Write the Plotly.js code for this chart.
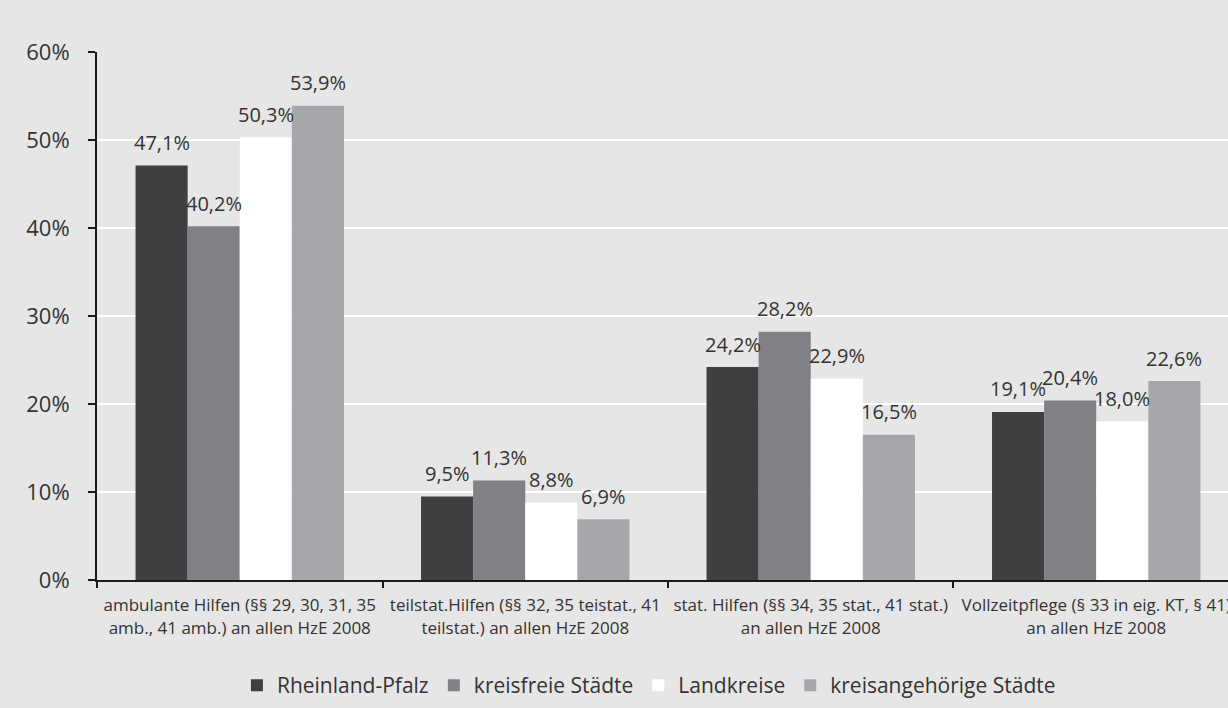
<!DOCTYPE html>
<html>
<head>
<meta charset="utf-8">
<script src="https://cdn.plot.ly/plotly-3.0.1.min.js"></script>
<style>
  html, body { margin: 0; padding: 0; background: #e6e6e6; }
  #chart { width: 1228px; height: 708px; }
</style>
</head>
<body>
<div id="chart"></div>
<script>
// Anteile der Hilfearten an allen Hilfen zur Erziehung (HzE) 2008
const categories = [
  'ambulante Hilfen (§§ 29, 30, 31, 35<br>amb., 41 amb.) an allen HzE 2008',
  'teilstat.Hilfen (§§ 32, 35 teistat., 41<br>teilstat.) an allen HzE 2008',
  'stat. Hilfen (§§ 34, 35 stat., 41 stat.)<br>an allen HzE 2008',
  'Vollzeitpflege (§ 33 in eig. KT, § 41)<br>an allen HzE 2008'
];

const rheinlandPfalz    = [47.1, 9.5, 24.2, 19.1];
const kreisfreieStaedte = [40.2, 11.3, 28.2, 20.4];
const landkreise        = [50.3, 8.8, 22.9, 18.0];
const kreisangehoerige  = [53.9, 6.9, 16.5, 22.6];

const seriesNames = ['Rheinland-Pfalz', 'kreisfreie Städte', 'Landkreise', 'kreisangehörige Städte'];
const seriesColors = ['#3e3f41', '#808184', '#ffffff', '#a6a7aa'];

const yTickVals = [0, 10, 20, 30, 40, 50, 60];
const yTickText = ['0%', '10%', '20%', '30%', '40%', '50%', '60%'];

const fontFamily = '"Open Sans", "Noto Sans", sans-serif';
const textColor = '#333333';

function fmt(v) {
  return v.toFixed(1).replace('.', ',') + '%';
}

const allSeries = [rheinlandPfalz, kreisfreieStaedte, landkreise, kreisangehoerige];

const W = 1228, H = 708;
const margin = { l: 97, r: 0, t: 52, b: 128 };
const xRange = [-0.5, 3.4615];
const bargap = 0.27;

const traces = allSeries.map((vals, i) => ({
  type: 'bar',
  name: seriesNames[i],
  x: categories,
  y: vals,
  marker: { color: seriesColors[i], line: { width: 0 } },
  hoverinfo: 'skip'
}));

// value labels above each bar, shifted sideways to the centre of its bar within the group
const plotW = W - margin.l - margin.r;
const pxPerCat = plotW / (xRange[1] - xRange[0]);
const barPx = pxPerCat * (1 - bargap) / allSeries.length;
const annotations = [];
allSeries.forEach((vals, i) => {
  vals.forEach((v, j) => {
    annotations.push({
      x: categories[j],
      y: v,
      xref: 'x', yref: 'y',
      text: fmt(v),
      showarrow: false,
      xanchor: 'center',
      yanchor: 'middle',
      xshift: (i - (allSeries.length - 1) / 2) * barPx,
      yshift: 23,
      font: { family: fontFamily, size: 20, color: textColor }
    });
  });
});

const layout = {
  width: W,
  height: H,
  paper_bgcolor: '#e6e6e6',
  plot_bgcolor: '#e6e6e6',
  margin: margin,
  barmode: 'group',
  bargap: bargap,
  bargroupgap: 0,
  font: { family: fontFamily, color: textColor },
  showlegend: true,
  legend: {
    orientation: 'h',
    x: 0.488, xanchor: 'center',
    y: -0.2, yanchor: 'middle',
    font: { family: fontFamily, size: 21, color: textColor },
    itemwidth: 30,
    traceorder: 'normal',
    bgcolor: 'rgba(0,0,0,0)'
  },
  annotations: annotations,
  xaxis: {
    type: 'category',
    range: xRange,
    showline: true,
    linecolor: '#1a1a1a',
    linewidth: 2,
    ticks: 'outside',
    tickson: 'boundaries',
    ticklen: 6,
    tickwidth: 2,
    tickcolor: '#1a1a1a',
    ticklabelstandoff: 9,
    showgrid: false,
    zeroline: false,
    tickfont: { family: fontFamily, size: 17, color: textColor },
    automargin: false
  },
  yaxis: {
    range: [0, 60],
    tickvals: yTickVals,
    ticktext: yTickText,
    showline: true,
    linecolor: '#1a1a1a',
    linewidth: 2,
    ticks: 'outside',
    ticklen: 7,
    tickwidth: 2,
    tickcolor: '#1a1a1a',
    ticklabelstandoff: 14,
    showgrid: true,
    gridcolor: '#ffffff',
    gridwidth: 2,
    zeroline: false,
    tickfont: { family: fontFamily, size: 22, color: textColor },
    automargin: false
  }
};

Plotly.newPlot('chart', traces, layout, { displayModeBar: false, staticPlot: true });
</script>
</body>
</html>
